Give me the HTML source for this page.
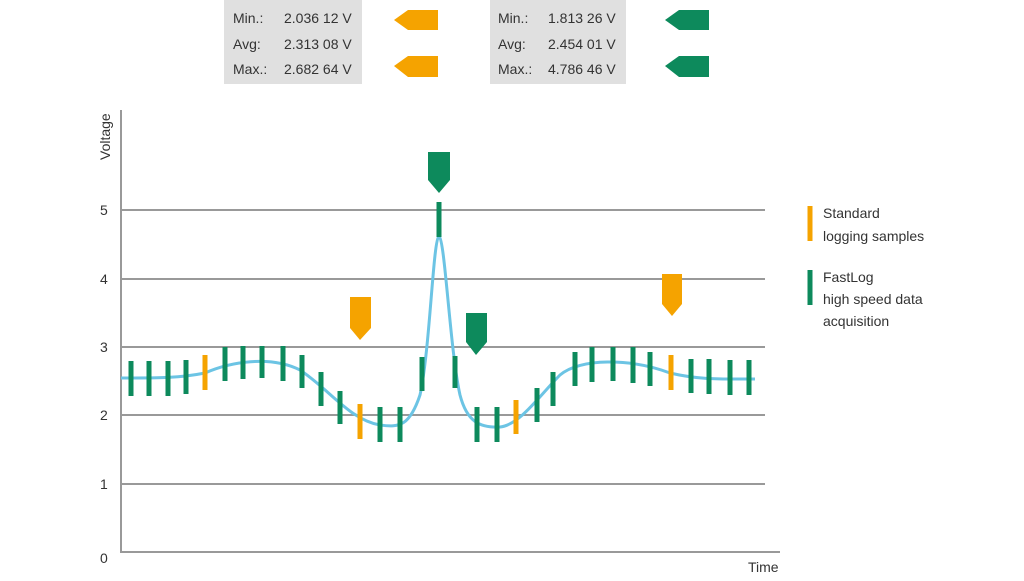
<!DOCTYPE html>
<html><head><meta charset="utf-8"><style>
body{margin:0;background:#fff;width:1024px;height:576px;overflow:hidden;font-family:"Liberation Sans Narrow","Liberation Sans",sans-serif;}
svg text{font-family:"Liberation Sans Narrow","Liberation Sans",sans-serif;fill:#333}
</style></head><body>
<svg width="1024" height="576" viewBox="0 0 1024 576">
<rect x="224" y="0" width="138" height="84" fill="#e0e0e0"/>
<rect x="490" y="0" width="136" height="84" fill="#e0e0e0"/>
<g font-size="14">
<text x="233" y="23">Min.:</text><text x="284" y="23">2.036 12 V</text>
<text x="233" y="49">Avg:</text><text x="284" y="49">2.313 08 V</text>
<text x="233" y="74">Max.:</text><text x="284" y="74">2.682 64 V</text>
<text x="498" y="23">Min.:</text><text x="548" y="23">1.813 26 V</text>
<text x="498" y="49">Avg:</text><text x="548" y="49">2.454 01 V</text>
<text x="498" y="74">Max.:</text><text x="548" y="74">4.786 46 V</text>
</g>
<polygon points="394,20 408,10 438,10 438,30 408,30" fill="#f5a300"/>
<polygon points="394,66 408,56 438,56 438,77 408,77" fill="#f5a300"/>
<polygon points="665,20 679,10 709,10 709,30 679,30" fill="#0d8a5c"/>
<polygon points="665,66 679,56 709,56 709,77 679,77" fill="#0d8a5c"/>
<g stroke="#999" stroke-width="2">
<line x1="121" y1="210" x2="765" y2="210"/><line x1="121" y1="279" x2="765" y2="279"/>
<line x1="121" y1="347" x2="765" y2="347"/><line x1="121" y1="415" x2="765" y2="415"/>
<line x1="121" y1="484" x2="765" y2="484"/>
<line x1="121" y1="110" x2="121" y2="553"/><line x1="120" y1="552" x2="780" y2="552"/>
</g>
<g font-size="14">
<text x="100" y="215">5</text><text x="100" y="284">4</text><text x="100" y="352">3</text>
<text x="100" y="420">2</text><text x="100" y="489">1</text><text x="100" y="563">0</text>
<text x="748" y="572">Time</text>
<text transform="translate(110,160) rotate(-90)">Voltage</text>
</g>
<path d="M121,378 C160,378 180,378 205,373 C230,362 270,355 300,370 C330,390 350,420 380,425 C400,428 410,425 420,395 C430,350 433,240 439,236 C445,240 450,350 460,395 C467,422 480,428 500,427 C520,425 540,395 560,375 C580,358 630,358 670,373 C700,380 720,379 755,379" fill="none" stroke="#6cc4e4" stroke-width="3"/>
<g stroke="#0d8a5c" stroke-width="5">
<line x1="131" y1="361" x2="131" y2="396"/><line x1="149" y1="361" x2="149" y2="396"/>
<line x1="168" y1="361" x2="168" y2="396"/><line x1="186" y1="360" x2="186" y2="394"/>
<line x1="225" y1="347" x2="225" y2="381"/><line x1="243" y1="346" x2="243" y2="379"/>
<line x1="262" y1="346" x2="262" y2="378"/><line x1="283" y1="346" x2="283" y2="381"/>
<line x1="302" y1="355" x2="302" y2="388"/><line x1="321" y1="372" x2="321" y2="406"/>
<line x1="340" y1="391" x2="340" y2="424"/><line x1="380" y1="407" x2="380" y2="442"/>
<line x1="400" y1="407" x2="400" y2="442"/><line x1="422" y1="357" x2="422" y2="391"/>
<line x1="439" y1="202" x2="439" y2="237"/><line x1="455" y1="356" x2="455" y2="388"/>
<line x1="477" y1="407" x2="477" y2="442"/><line x1="497" y1="407" x2="497" y2="442"/>
<line x1="537" y1="388" x2="537" y2="422"/><line x1="553" y1="372" x2="553" y2="406"/>
<line x1="575" y1="352" x2="575" y2="386"/><line x1="592" y1="347" x2="592" y2="382"/>
<line x1="613" y1="347" x2="613" y2="381"/><line x1="633" y1="347" x2="633" y2="383"/>
<line x1="650" y1="352" x2="650" y2="386"/><line x1="691" y1="359" x2="691" y2="393"/>
<line x1="709" y1="359" x2="709" y2="394"/><line x1="730" y1="360" x2="730" y2="395"/>
<line x1="749" y1="360" x2="749" y2="395"/>
<line x1="810" y1="270" x2="810" y2="305"/>
</g>
<g stroke="#f5a300" stroke-width="5">
<line x1="205" y1="355" x2="205" y2="390"/><line x1="360" y1="404" x2="360" y2="439"/>
<line x1="516" y1="400" x2="516" y2="434"/><line x1="671" y1="355" x2="671" y2="390"/>
<line x1="810" y1="206" x2="810" y2="241"/>
</g>
<polygon points="428,152 450,152 450,180 439,193 428,180" fill="#0d8a5c"/>
<polygon points="466,313 487,313 487,342 476,355 466,342" fill="#0d8a5c"/>
<polygon points="350,297 371,297 371,328 360,340 350,328" fill="#f5a300"/>
<polygon points="662,274 682,274 682,304 672,316 662,304" fill="#f5a300"/>
<g font-size="14">
<text x="823" y="218">Standard</text><text x="823" y="241">logging samples</text>
<text x="823" y="282">FastLog</text><text x="823" y="304">high speed data</text><text x="823" y="326">acquisition</text>
</g>
</svg>
</body></html>
